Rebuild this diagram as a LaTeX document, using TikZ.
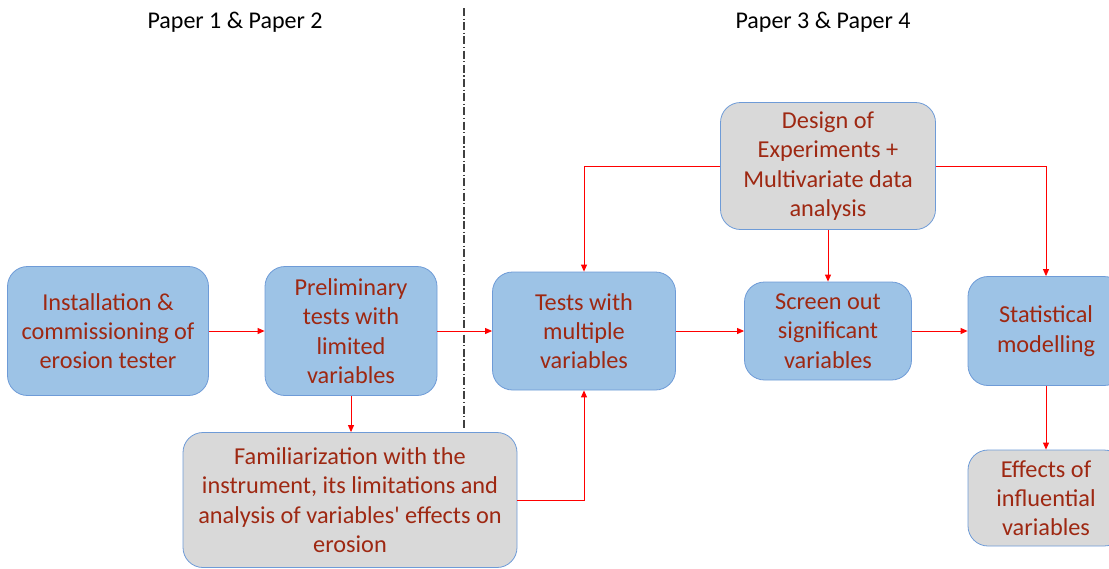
\documentclass[tikz,border=0pt]{standalone}
\usepackage{fontspec}
\setmainfont{Carlito}
\usetikzlibrary{arrows.meta}
\definecolor{boxblue}{RGB}{157,195,230}
\definecolor{boxgray}{RGB}{217,217,217}
\definecolor{boxline}{RGB}{110,155,215}
\definecolor{boxtext}{RGB}{158,40,18}
\begin{document}
\begin{tikzpicture}[x=1pt,y=-1pt,
    stagebox/.style={draw=boxline,line width=0.8pt,rounded corners=20pt,align=center,
      text=boxtext,font=\fontsize{24.3}{29.3}\selectfont,inner sep=0pt},
    bluebox/.style={stagebox,fill=boxblue},
    graybox/.style={stagebox,fill=boxgray},
    arr/.style={draw=red,line width=0.9pt,-{Triangle[length=7pt,width=6pt]}}]
  \useasboundingbox (0,0) rectangle (1109,568);
  \node [bluebox,minimum width=201pt,minimum height=129pt] (inst) at (108,331)
    {Installation \&\\commissioning of\\erosion tester};
  \node [bluebox,minimum width=172pt,minimum height=129pt] (prelim) at (351,331)
    {Preliminary\\tests with\\limited\\variables};
  \node [graybox,minimum width=334pt,minimum height=135pt] (famil) at (350,500)
    {Familiarization with the\\instrument, its limitations and\\analysis of variables\textquotesingle{} effects on\\erosion};
  \node [bluebox,minimum width=183pt,minimum height=118pt] (multi) at (584,331)
    {Tests with\\multiple\\variables};
  \node [graybox,minimum width=215pt,minimum height=127pt] (doe) at (828,166)
    {Design of\\Experiments +\\Multivariate data\\analysis};
  \node [bluebox,minimum width=167pt,minimum height=98pt] (screen) at (828,331)
    {Screen out\\significant\\variables};
  \node [bluebox,minimum width=156pt,minimum height=109pt] (stat) at (1046,331)
    {Statistical\\modelling};
  \node [graybox,minimum width=156pt,minimum height=96pt] (effects) at (1046,498)
    {Effects of\\influential\\variables};

  % the two phases
  \draw [line width=1.2pt,black!75,dash pattern=on 8pt off 2.5pt on 1.2pt off 2.5pt]
    (464,8) -- (464,428);
  \node [font=\fontsize{24}{28}\selectfont] (phaseA) at (235,22) {Paper 1 \& Paper 2};
  \node [font=\fontsize{24}{28}\selectfont] (phaseB) at (823,22) {Paper 3 \& Paper 4};

  \draw [arr] (inst) -- (prelim);
  \draw [arr] (prelim) -- (multi);
  \draw [arr] (prelim.south) -- (prelim.south |- famil.north);
  \draw [arr] (famil.east) -| (multi.south);
  \draw [arr] (doe.west) -| (multi.north);
  \draw [arr] (doe.south) -- (screen.north);
  \draw [arr] (doe.east) -| (stat.north);
  \draw [arr] (multi) -- (screen);
  \draw [arr] (screen) -- (stat);
  \draw [arr] (stat.south) -- (effects.north);
\end{tikzpicture}
\end{document}
